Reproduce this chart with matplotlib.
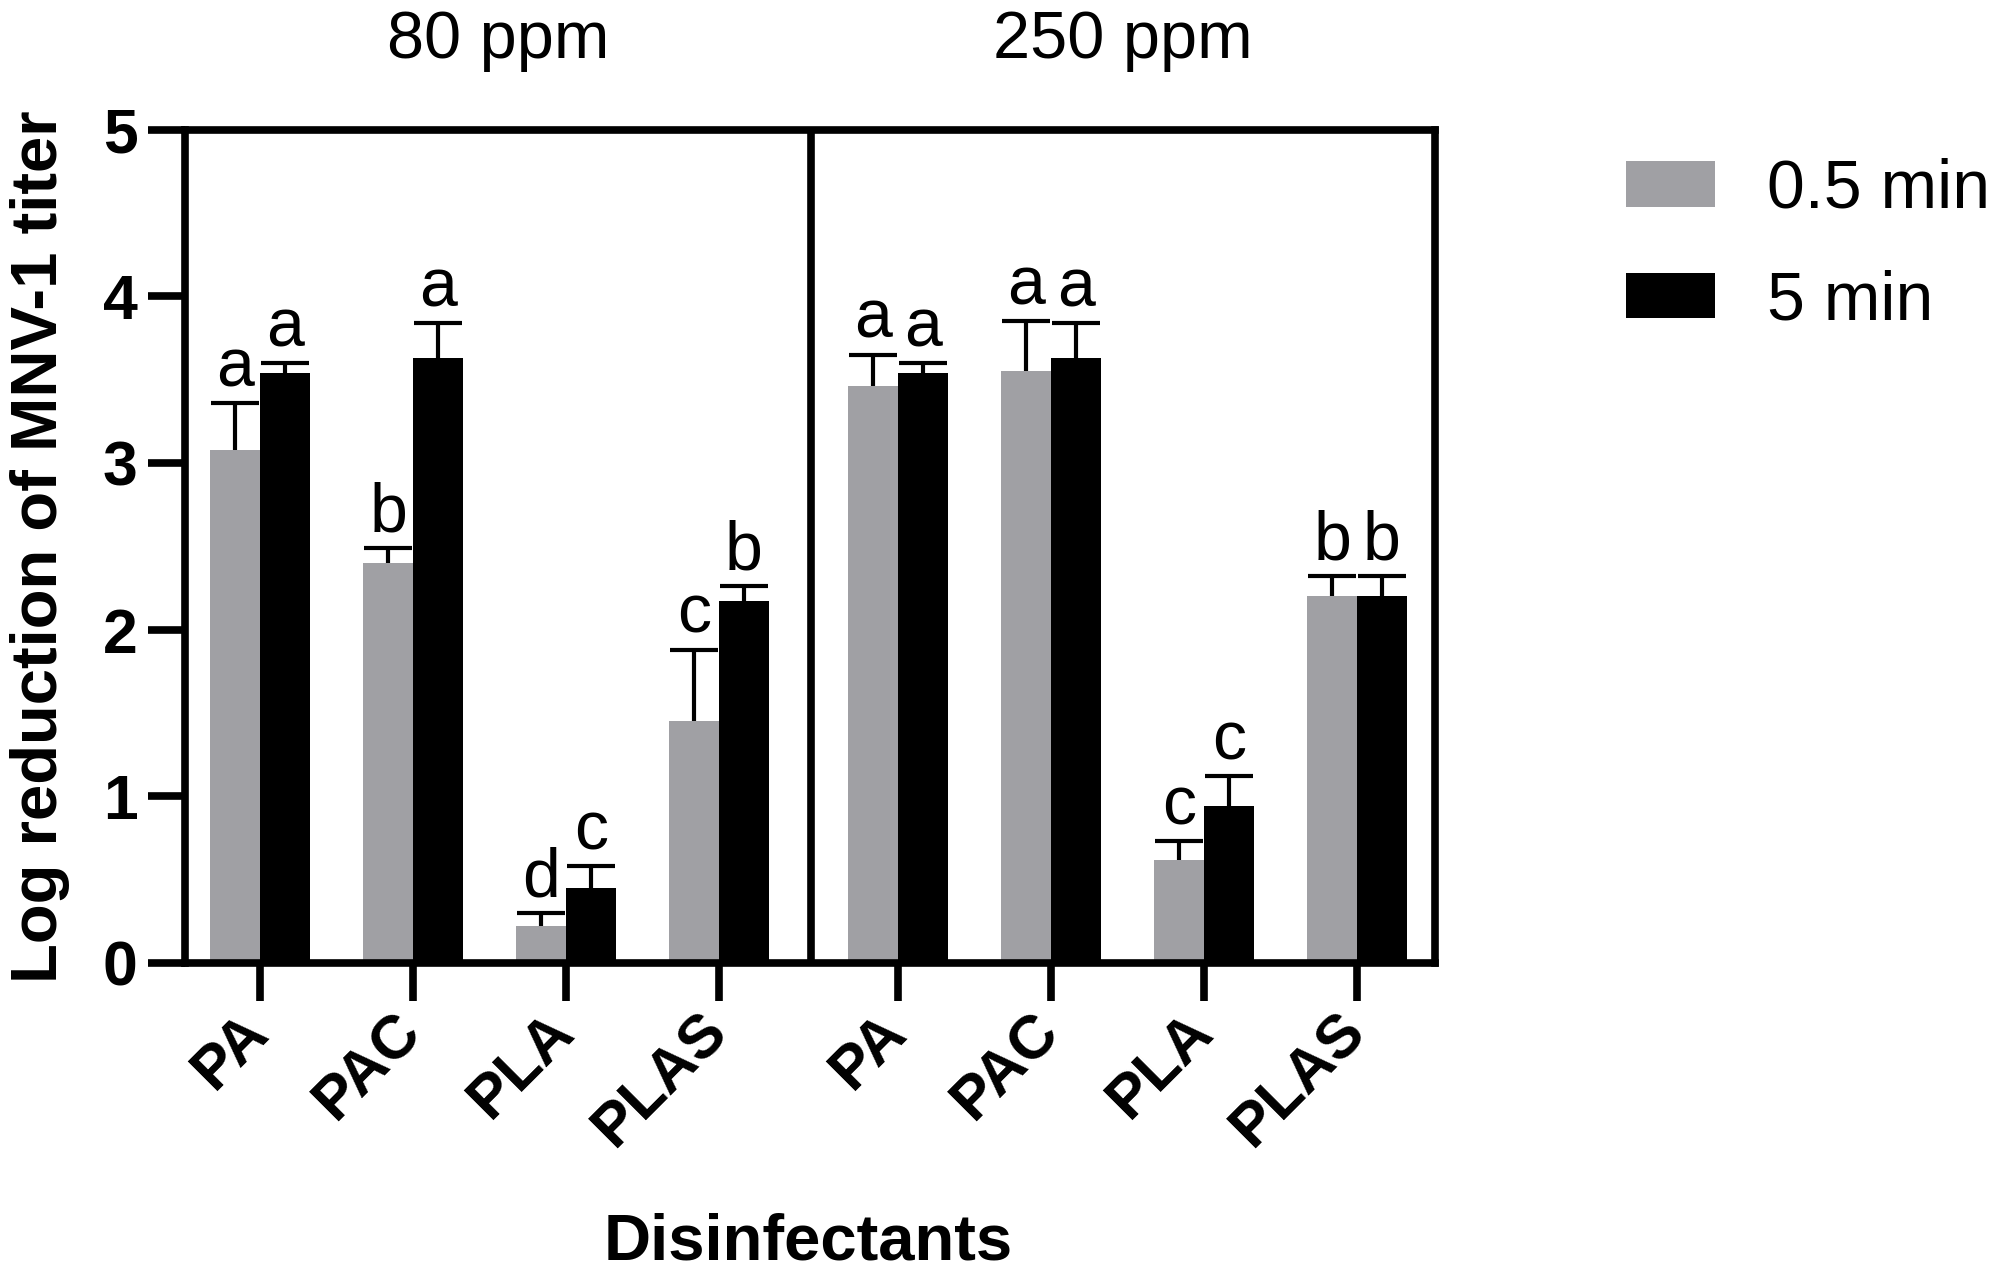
import numpy as np
import matplotlib
matplotlib.use('Agg')
from matplotlib import pyplot as plt
from matplotlib import transforms
from matplotlib.patches import Patch

plt.rcParams['font.family'] = ['Liberation Sans', 'DejaVu Sans']

groups = ['PA', 'PAC', 'PLA', 'PLAS']
concentrations = ['80 ppm', '250 ppm']
times = ['0.5 min', '5 min']

# log reduction, mean and upper SD
mean_80_short = [3.08, 2.40, 0.22, 1.45]
sd_80_short = [0.28, 0.09, 0.08, 0.43]
mean_80_long = [3.54, 3.63, 0.45, 2.17]
sd_80_long = [0.06, 0.21, 0.13, 0.09]
mean_250_short = [3.46, 3.55, 0.62, 2.20]
sd_250_short = [0.19, 0.30, 0.11, 0.12]
mean_250_long = [3.54, 3.63, 0.94, 2.20]
sd_250_long = [0.06, 0.21, 0.18, 0.12]

letters_80_short = ['a', 'b', 'd', 'c']
letters_80_long = ['a', 'a', 'c', 'b']
letters_250_short = ['a', 'a', 'c', 'b']
letters_250_long = ['a', 'a', 'c', 'b']

GRAY = '#a0a0a4'
BLACK = '#000000'
LW = 5.5
BAR_W = 0.325

fig = plt.figure(figsize=(19.95, 12.79), dpi=100)
ax = fig.add_axes([0.0927, 0.2471, 0.6266, 0.6516])

x_left = np.arange(len(groups))
x_right = np.arange(len(groups)) + 4.17
divider = 3.6

panels = [
    (x_left, mean_80_short, sd_80_short, letters_80_short, mean_80_long, sd_80_long, letters_80_long),
    (x_right, mean_250_short, sd_250_short, letters_250_short, mean_250_long, sd_250_long, letters_250_long),
]

for xs, m_s, e_s, l_s, m_l, e_l, l_l in panels:
    for offset, means, errs, letters, color in [(-BAR_W / 2, m_s, e_s, l_s, GRAY),
                                                (BAR_W / 2, m_l, e_l, l_l, BLACK)]:
        pos = xs + offset
        ax.bar(pos, means, BAR_W, color=color, zorder=2)
        ax.errorbar(pos, means, yerr=errs, fmt='none', ecolor='black', elinewidth=3,
                    capsize=17, capthick=3, zorder=1)
        for p, m, e, t in zip(pos, means, errs, letters):
            ax.annotate(t, (p, m + e), xytext=(0, 12), textcoords='offset points',
                        ha='center', va='baseline', fontsize=49)

ax.axvline(divider, color='black', lw=LW, zorder=3)
ax.set_xlim(-0.49, 7.68)
ax.set_ylim(0, 5)
ax.set_yticks([0, 1, 2, 3, 4, 5])

for s in ax.spines.values():
    s.set_linewidth(LW)

ax.set_xticks(np.concatenate([x_left, x_right]))
ax.set_xticklabels(groups + groups, rotation=45, ha='right', va='center',
                   rotation_mode='anchor', fontsize=44, fontweight='bold')
shift = transforms.ScaledTranslation(7 / 100, 0, fig.dpi_scale_trans)
for lbl in ax.get_xticklabels():
    lbl.set_transform(lbl.get_transform() + shift)
ax.tick_params(axis='x', length=27, width=LW, pad=16)
ax.tick_params(axis='y', length=27, width=LW, pad=7, labelsize=45)
for lbl in ax.get_yticklabels():
    lbl.set_fontweight('bold')

ax.set_ylabel('Log reduction of MNV-1 titer', fontsize=47, fontweight='bold')
ax.yaxis.set_label_coords(-0.092, 0.5)
ax.set_xlabel('Disinfectants', fontsize=47, fontweight='bold')
ax.xaxis.set_label_coords(0.4985, -0.3)

# concentration headers over each panel
hdr = transforms.blended_transform_factory(ax.transData, fig.transFigure)
ax.text((-0.49 + divider) / 2, 1 - 58 / 1279, concentrations[0], transform=hdr,
        ha='center', va='baseline', fontsize=48)
ax.text((divider + 7.68) / 2, 1 - 58 / 1279, concentrations[1], transform=hdr,
        ha='center', va='baseline', fontsize=48)

handles = [Patch(facecolor=GRAY), Patch(facecolor=BLACK)]
fig.legend(handles, times, loc='upper left', bbox_to_anchor=(1626 / 1995, 1 - 158 / 1279),
           frameon=False, fontsize=49, borderpad=0, borderaxespad=0,
           handlelength=1.31, handleheight=0.65, handletextpad=0.76, labelspacing=0.7)

fig.savefig('out.png', dpi=100)
